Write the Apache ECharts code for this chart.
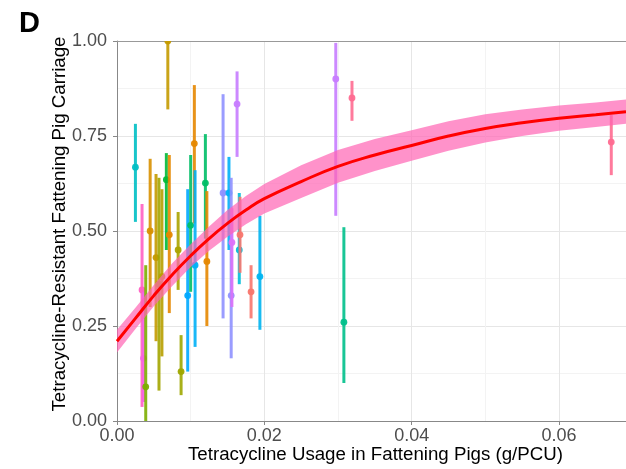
<!DOCTYPE html>
<html><head><meta charset="utf-8">
<script src="https://cdn.jsdelivr.net/npm/echarts@6/dist/echarts.min.js"></script>
<style>html,body{margin:0;padding:0;background:#fff}#c{width:626px;height:469px}</style>
</head><body><div id="c"></div>
<script>
// Country-level observations: tetracycline usage (g/PCU) vs resistant carriage
const usage    = [0.0025,0.0034,0.0036,0.0039,0.0045,0.0053,0.0057,0.0061,0.0067,0.0069,0.0071,0.0083,0.0087,0.0096,0.0100,0.0105,0.0106,0.0120,0.0122,0.0144,0.0152,0.0155,0.0156,0.0163,0.0166,0.0167,0.0182,0.0194,0.0297,0.0308,0.0319,0.0671];
const carriage = [0.668,0.345,0.165,0.09,0.50,0.43,0.36,0.38,0.635,1.00,0.49,0.45,0.13,0.33,0.515,0.73,0.41,0.626,0.42,0.60,0.60,0.33,0.47,0.834,0.45,0.49,0.34,0.38,0.90,0.26,0.85,0.734];
const ciLower  = [0.524,0.037,0.05,0.00,0.30,0.21,0.08,0.17,0.45,0.82,0.284,0.345,0.068,0.13,0.34,0.52,0.195,0.48,0.25,0.27,0.45,0.165,0.30,0.695,0.36,0.39,0.27,0.24,0.54,0.10,0.79,0.647];
const ciUpper  = [0.782,0.571,0.34,0.41,0.69,0.65,0.64,0.61,0.705,1.00,0.70,0.55,0.226,0.61,0.70,0.884,0.66,0.755,0.605,0.86,0.695,0.64,0.56,0.92,0.60,0.59,0.41,0.54,0.995,0.51,0.895,0.805];
const pointColors = ['#00BFC4','#FF61C3','#F564E3','#7CAE00','#D89000','#C49A00','#A3A500','#B79F00','#00BA38','#C49A00','#E58700','#ABA300','#9EA700','#00A9FF','#00BE67','#E58700','#00B0F6','#00BE67','#E58700','#8F91FF','#00B0F6','#8F91FF','#DC71FA','#C77CFF','#00BCD8','#F8766D','#F8766D','#00B4F0','#C77CFF','#00C08B','#FF6C91','#FF6C91'];

// Fitted curve and confidence band
const fitX  = [0,0.0025,0.005,0.0075,0.01,0.0125,0.015,0.0175,0.02,0.025,0.03,0.035,0.04,0.045,0.05,0.055,0.06,0.065,0.0691];
const fitY  = [0.21,0.27,0.33,0.385,0.435,0.48,0.52,0.555,0.585,0.63,0.67,0.70,0.725,0.75,0.77,0.785,0.797,0.806,0.814];
const fitLo = [0.18,0.242,0.302,0.355,0.405,0.448,0.485,0.518,0.546,0.587,0.627,0.658,0.685,0.711,0.733,0.75,0.764,0.774,0.782];
const fitHi = [0.24,0.298,0.358,0.415,0.465,0.512,0.555,0.592,0.624,0.673,0.713,0.742,0.765,0.789,0.807,0.82,0.83,0.838,0.846];

const xTickStep = 0.02, xMax = 0.0691;
const yTickStep = 0.25;

const FONT = 'Liberation Sans, Arial, sans-serif';
const chart = echarts.init(document.getElementById('c'), null, {renderer:'canvas'});

const barData = usage.map((x,i)=>[x, carriage[i], ciLower[i], ciUpper[i]]);
const fitData = fitX.map((x,i)=>[x, fitY[i]]);

chart.setOption({
  animation:false,
  backgroundColor:'#fff',
  title:{text:'D', left:14, top:4, textStyle:{fontFamily:FONT, fontWeight:'bold', fontSize:29, color:'#000'}},
  grid:{left:117, right:0, top:41, bottom:48, containLabel:false, outerBoundsMode:'none'},
  xAxis:[{
    type:'value', min:0, max:xMax, interval:xTickStep,
    name:'Tetracycline Usage in Fattening Pigs (g/PCU)', nameLocation:'middle', nameGap:24, nameMoveOverlap:false,
    nameTextStyle:{fontFamily:FONT, fontSize:18.7, color:'#000', padding:[0,0,0,8]},
    axisLine:{show:true, onZero:false, lineStyle:{color:'#888', width:1}},
    axisTick:{show:true, length:4, lineStyle:{color:'#888'}},
    axisLabel:{fontFamily:FONT, fontSize:18, color:'#4D4D4D', margin:6, showMaxLabel:false,
      formatter:v=>v.toFixed(2)},
    splitLine:{show:true, lineStyle:{color:'#E6E6E6', width:1}},
    minorTick:{show:false, splitNumber:2},
    minorSplitLine:{show:true, lineStyle:{color:'#F3F3F3', width:1}}
  },{
    type:'value', min:0, max:xMax, position:'top',
    axisLine:{show:true, onZero:false, lineStyle:{color:'#999', width:1}},
    axisTick:{show:false}, axisLabel:{show:false}, splitLine:{show:false}
  }],
  yAxis:{
    type:'value', min:0, max:1, interval:yTickStep,
    name:'Tetracycline-Resistant Fattening Pig Carriage', nameLocation:'middle', nameGap:48, nameMoveOverlap:false,
    nameTextStyle:{fontFamily:FONT, fontSize:18.7, color:'#000', padding:[0,0,0,14]},
    axisLine:{show:true, lineStyle:{color:'#888', width:1}},
    axisTick:{show:true, length:4, lineStyle:{color:'#888'}},
    axisLabel:{fontFamily:FONT, fontSize:18, color:'#4D4D4D', margin:10, formatter:v=>v.toFixed(2)},
    splitLine:{show:true, lineStyle:{color:'#E6E6E6', width:1}},
    minorTick:{show:false, splitNumber:2},
    minorSplitLine:{show:true, lineStyle:{color:'#F3F3F3', width:1}}
  },
  series:[{
    type:'custom', name:'bars', xAxisIndex:0, clip:true,
    data:barData,
    encode:{x:0, y:[1,2,3]},
    renderItem:function(params, api){
      const x=api.value(0), c=api.value(1), lo=api.value(2), hi=api.value(3);
      const pLo=api.coord([x,lo]), pHi=api.coord([x,hi]), pC=api.coord([x,c]);
      const col=pointColors[params.dataIndex];
      return {type:'group', children:[
        {type:'line', shape:{x1:pLo[0],y1:pLo[1],x2:pHi[0],y2:pHi[1]}, style:{stroke:col, lineWidth:3, opacity:0.9}},
        {type:'circle', shape:{cx:pC[0],cy:pC[1],r:3.4}, style:{fill:col, opacity:0.95}}
      ]};
    },
    z:2
  },{
    type:'custom', name:'band', xAxisIndex:0, clip:true,
    data:[[0,0]],
    encode:{x:0, y:1},
    renderItem:function(params, api){
      const pts=[];
      for(let i=0;i<fitX.length;i++) pts.push(api.coord([fitX[i], fitHi[i]]));
      for(let i=fitX.length-1;i>=0;i--) pts.push(api.coord([fitX[i], fitLo[i]]));
      return {type:'polygon', shape:{points:pts}, style:{fill:'rgba(255,100,180,0.7)', stroke:null}};
    },
    z:3, silent:true
  },{
    type:'line', name:'fit', xAxisIndex:0, data:fitData, smooth:true, showSymbol:false,
    lineStyle:{color:'#FF0000', width:3}, z:4, silent:true
  }]
});
</script></body></html>
